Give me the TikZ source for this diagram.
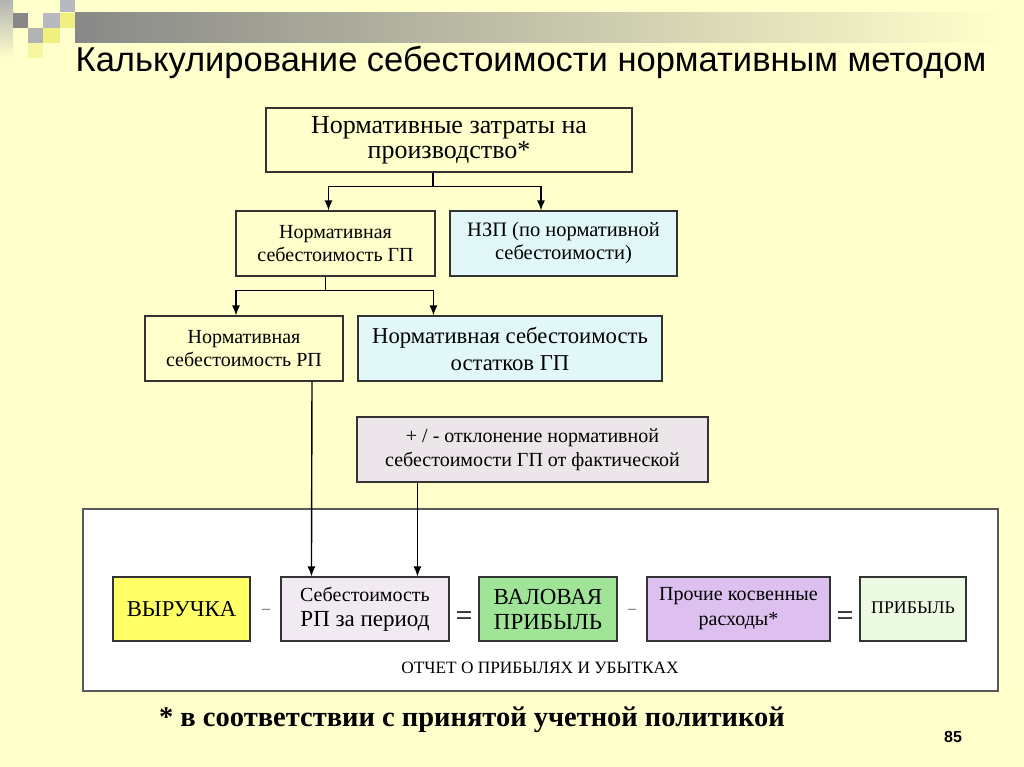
\documentclass[tikz,border=0pt]{standalone}
\usepackage{fontspec}
\setmainfont{Liberation Serif}
\newfontfamily\titlefont{Liberation Sans}
\usetikzlibrary{arrows.meta}
\definecolor{slidebg}{RGB}{255,255,204}
\definecolor{nzpblue}{RGB}{226,248,248}
\definecolor{otklgray}{RGB}{236,230,234}
\definecolor{vyryellow}{RGB}{255,255,102}
\definecolor{sebpink}{RGB}{242,234,242}
\definecolor{valgreen}{RGB}{160,228,152}
\definecolor{prochlila}{RGB}{222,192,240}
\definecolor{pribgreen}{RGB}{236,250,228}
\definecolor{decodark}{RGB}{136,136,136}
\definecolor{decolight}{RGB}{184,184,192}
\definecolor{decoyellow}{RGB}{240,240,128}
\newcommand{\fs}[2]{\fontsize{#1pt}{#2pt}\selectfont}
\tikzset{
  box/.style={draw=black!80, line width=1.1pt, fill=slidebg, align=center, inner sep=0pt},
  arr/.style={line width=1.4pt, -{Latex[length=10pt,width=8pt]}},
  line/.style={line width=1.4pt},
  sign/.style={text=black!70}
}
\begin{document}
\begin{tikzpicture}[x=1pt,y=-1pt]
 \useasboundingbox (0,0) rectangle (1024,767);
 \fill[slidebg] (0,0) rectangle (1024,767);
 % corner decoration
 \shade[top color=black!30, bottom color=slidebg] (0,0) rectangle (13,58);
 \shade[left color=decodark, right color=slidebg] (75,13) rectangle (1000,43);
 \fill[decolight] (60,0) rectangle (75,12);
 \fill[decodark] (13,13) rectangle (28,28);
 \fill[decolight] (43,13) rectangle (60,28);
 \fill[decoyellow] (60,13) rectangle (75,28);
 \fill[black!30] (28,28) rectangle (43,43);
 \fill[decoyellow] (43,28) rectangle (60,43);
 \fill[decoyellow!60!slidebg] (28,43) rectangle (43,58);
 % title
 \node[font=\titlefont\fs{34.5}{40}] (title) at (531,62) {Калькулирование себестоимости нормативным методом};
 % upper part
 \node[box, minimum width=366pt, minimum height=64pt, font=\fs{26}{25}] (zatr) at (449,140) {Нормативные затраты на\\производство*};
 \node[box, minimum width=199pt, minimum height=65pt, font=\fs{20}{23}] (gp) at (335.5,243.5) {Нормативная\\себестоимость ГП};
 \node[box, fill=nzpblue, minimum width=227pt, minimum height=65pt, font=\fs{20.5}{23}] (nzp) at (563.5,243.5) {НЗП (по нормативной\\себестоимости)};
 \node[box, minimum width=198pt, minimum height=65pt, font=\fs{20}{23}] (rp) at (244,348.5) {Нормативная\\себестоимость РП};
 \node[box, fill=nzpblue, minimum width=304pt, minimum height=65pt, font=\fs{22.7}{27}] (ost) at (510,348.5) {Нормативная себестоимость\\остатков ГП};
 \node[box, fill=otklgray, minimum width=351pt, minimum height=65pt, font=\fs{20}{24}] (otkl) at (532.5,449.5) {+ / - отклонение нормативной\\себестоимости ГП от фактической};
 % report
 \node[box, draw=black!65, line width=1.3pt, fill=white, minimum width=915pt, minimum height=182pt] (report) at (540.5,600) {};
 \node[box, fill=vyryellow, minimum width=137pt, minimum height=64pt, font=\fs{22.7}{26}] (vyr) at (181.5,609) {ВЫРУЧКА};
 \node[box, fill=sebpink, minimum width=168pt, minimum height=64pt, font=\fs{23}{25}] (seb) at (365,609) {{\fs{20}{25}Себестоимость}\\РП за период};
 \node[box, fill=valgreen, minimum width=138pt, minimum height=64pt, font=\fs{23}{25}] (val) at (548,609) {ВАЛОВАЯ\\ПРИБЫЛЬ};
 \node[box, fill=prochlila, minimum width=183pt, minimum height=64pt, font=\fs{20}{25}] (proch) at (738.5,609) {Прочие косвенные\\расходы*};
 \node[box, fill=pribgreen, minimum width=106pt, minimum height=64pt, font=\fs{17.8}{20}] (prib) at (913,609) {\raisebox{3pt}{ПРИБЫЛЬ}};
 \node[sign, font=\fs{16}{18}] (m1) at (266,611) {--};
 \node[font=\fs{30}{32}] (e1) at (464,619) {=};
 \node[sign, font=\fs{16}{18}] (m2) at (632,611) {--};
 \node[font=\fs{30}{32}] (e2) at (845,619) {=};
 \node[font=\fs{17.3}{20}] (otchet) at (540,668) {ОТЧЕТ О ПРИБЫЛЯХ И УБЫТКАХ};
 % connectors
 \draw[line] ([xshift=-16pt]zatr.south) -- ++(0,14) coordinate (z1);
 \draw[arr] (z1) -| ([xshift=-7pt]gp.north);
 \draw[arr] (z1) -| ([xshift=-22.5pt]nzp.north);
 \draw[line] ([xshift=-10pt]gp.south) -- ++(0,14) coordinate (g1);
 \draw[arr] (g1) -| ([xshift=-8pt]rp.north);
 \draw[arr] (g1) -| ([xshift=76pt]ost.north west);
 \draw[arr] ([xshift=68pt]rp.south) -- ([xshift=31pt]seb.north west);
 \draw[arr] ([xshift=61pt]otkl.south west) -- ([xshift=137pt]seb.north west);
 % footnote
 \node[font=\bfseries\fs{28.5}{32}] (note) at (472,720) {* в соответствии с принятой учетной политикой};
 \node[font=\titlefont\bfseries\fs{16}{18}] (page) at (953,737) {85};
\end{tikzpicture}
\end{document}
